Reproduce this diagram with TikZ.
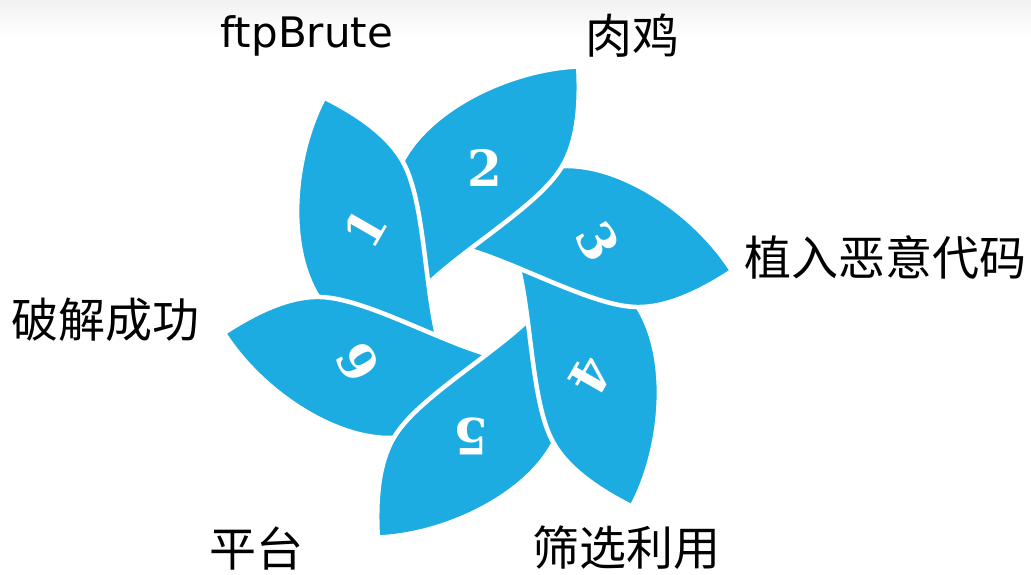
\documentclass[tikz,border=0pt]{standalone}
\usepackage{fontspec}
\newfontfamily\cjkfont{Noto Sans CJK SC}
\newfontfamily\latinfont{DejaVu Sans}
\newfontfamily\digitfont{DejaVu Serif}
\definecolor{petalblue}{HTML}{1DACE2}
\usetikzlibrary{calc}
% one leaf-shaped blade, tip to the right, inner corner near the hub
\newcommand\petalpath{(-8,52) .. controls (45,36) and (115,-4) .. (158,-5)
  .. controls (190,-6) and (225,12) .. (254,31)
  .. controls (220,85) and (150,135) .. (90,136)
  .. controls (40,137) and (5,95) .. (-8,52) -- cycle}
\tikzset{
  blade/.style={fill=petalblue, draw=white, line width=4.5pt, line join=round},
  bladenum/.style={text=white, font=\digitfont\bfseries\fontsize{50}{50}\selectfont, inner sep=0pt},
  cjklabel/.style={font=\cjkfont\fontsize{47}{47}\selectfont, inner sep=0pt},
  latinlabel/.style={font=\latinfont\fontsize{42}{42}\selectfont, inner sep=0pt, anchor=base}
}
\begin{document}
\begin{tikzpicture}[x=1pt,y=1pt]
\useasboundingbox (0,0) rectangle (1031,575);
\fill[white] (0,0) rectangle (1031,575);
\shade[top color=black!5, bottom color=white] (0,535) rectangle (1031,575);

% blades, drawn so that each one lies over the next
\foreach \r in {-180,-120,-60,0,60,120}{
  \begin{scope}[shift={(478,273)}, rotate=\r]
    \filldraw[blade] \petalpath;
  \end{scope}
}
% blade 6 lies over the inner end of blade 1
\begin{scope}
  \clip (215,230) rectangle (470,285);
  \begin{scope}[shift={(478,273)}, rotate=-180]
    \filldraw[blade] \petalpath;
  \end{scope}
\end{scope}

% blade numbers
\begin{scope}[shift={(478,273)}]
  \foreach \k/\r in {1/120,2/60,3/0,4/-60,5/-120,6/-180}{
    \node[bladenum, rotate=\r-60] (n\k) at (\r+26.9:134.6) {\k};
  }
\end{scope}

% labels
\node[latinlabel] (lbrute) at (307,527) {ftpBrute};
\node[cjklabel] (lhost) at (632,539) {肉鸡};
\node[cjklabel] (lcode) at (885,318) {植入恶意代码};
\node[cjklabel] (lcrack) at (106,255) {破解成功};
\node[cjklabel] (lplat) at (256,26) {平台};
\node[cjklabel] (lfilter) at (626,27) {筛选利用};
\end{tikzpicture}
\end{document}
